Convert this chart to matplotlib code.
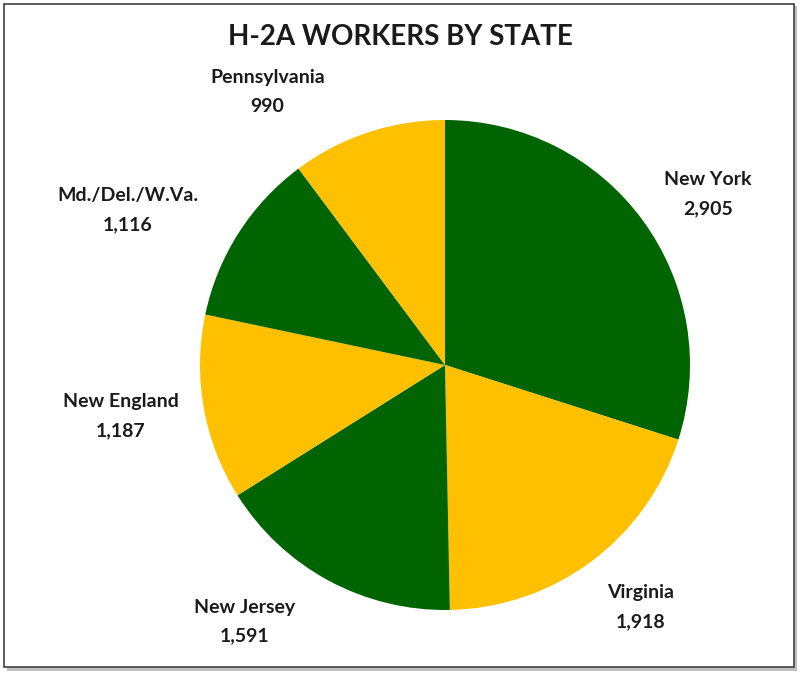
"""H-2A workers by state: pie chart."""
import matplotlib
matplotlib.use("Agg")
import matplotlib.pyplot as plt
import numpy as np
from matplotlib.patches import Rectangle

plt.rcParams["font.family"] = ["Lato", "DejaVu Sans"]

# ---------------------------------------------------------------------------
# Data
# ---------------------------------------------------------------------------
states = ["New York", "Virginia", "New Jersey", "New England",
          "Md./Del./W.Va.", "Pennsylvania"]
workers = [2905, 1918, 1591, 1187, 1116, 990]

GREEN = "#006400"
YELLOW = "#FFC000"
colors = [GREEN, YELLOW, GREEN, YELLOW, GREEN, YELLOW]

# label placement (angle in degrees, distance as fraction of radius)
label_pos = [(33, 1.28), (-51, 1.27), (-128, 1.33),
             (-171, 1.34), (154, 1.44), (123, 1.33)]

# ---------------------------------------------------------------------------
# Figure
# ---------------------------------------------------------------------------
W, H = 800, 675
fig = plt.figure(figsize=(W / 100, H / 100), dpi=100)
ax = fig.add_axes([0, 0, 1, 1])

# outer frame with a light shadow
ax.add_patch(Rectangle((7, 4), W - 10, H - 10, facecolor="#bfbfbf",
                       edgecolor="none", zorder=0))
ax.add_patch(Rectangle((4, 8), W - 10, H - 12, facecolor="white",
                       edgecolor="#404040", linewidth=1.2, zorder=1))

cx, cy, r = 445, H - 365, 245
ax.pie(workers, colors=colors, startangle=90, counterclock=False,
       center=(cx, cy), radius=r, frame=True,
       wedgeprops=dict(linewidth=0, zorder=2))
ax.set_xlim(0, W)
ax.set_ylim(0, H)
ax.set_aspect("equal")
ax.axis("off")

for name, val, (ang, dist) in zip(states, workers, label_pos):
    a = np.deg2rad(ang)
    x = cx + dist * r * np.cos(a)
    y = cy + dist * r * np.sin(a)
    ax.text(x, y, f"{name}\n{val:,}", ha="center", va="center",
            fontsize=14, fontweight="bold", color="#1a1a1a",
            linespacing=1.85, zorder=3)

ax.text(W / 2, H - 37, "H-2A WORKERS BY STATE", ha="center", va="center",
        fontsize=20, fontweight="bold", color="#1a1a1a", zorder=3)

fig.savefig("out.png", dpi=100)
